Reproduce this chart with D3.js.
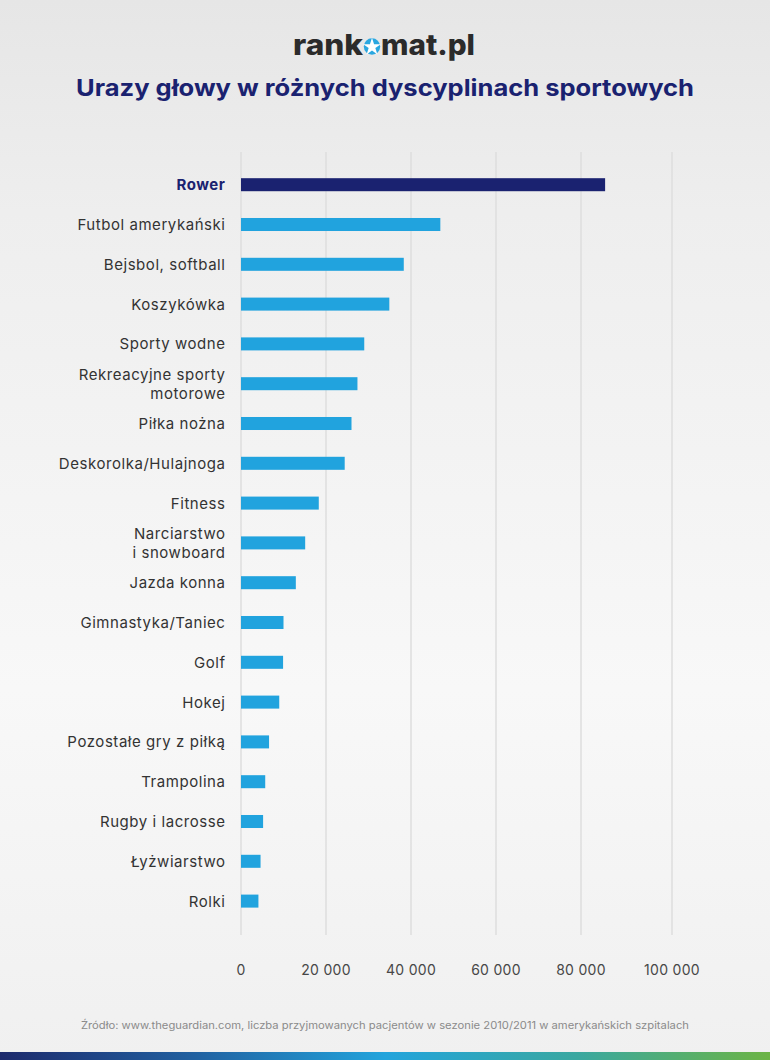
<!DOCTYPE html>
<html>
<head>
<meta charset="utf-8">
<script src="https://cdn.jsdelivr.net/npm/d3@7"></script>
<style>
  html, body { margin: 0; padding: 0; background: #f0f0f0; }
  svg { display: block; }
</style>
</head>
<body>
<svg id="chart" width="770" height="1060"></svg>
<script>
// ---- data ----
const categories = [
  "Rower", "Futbol amerykański", "Bejsbol, softball", "Koszykówka", "Sporty wodne",
  "Rekreacyjne sporty\nmotorowe", "Piłka nożna", "Deskorolka/Hulajnoga", "Fitness",
  "Narciarstwo\ni snowboard", "Jazda konna", "Gimnastyka/Taniec", "Golf", "Hokej",
  "Pozostałe gry z piłką", "Trampolina", "Rugby i lacrosse", "Łyżwiarstwo", "Rolki"
];
const values = [85300, 46900, 38300, 34900, 29000, 27400, 26000, 24400, 18300,
  15100, 12900, 10000, 9900, 9000, 6600, 5700, 5200, 4600, 4100];
const tickValues = [0, 20000, 40000, 60000, 80000, 100000];
const tickLabels = ["0", "20 000", "40 000", "60 000", "80 000", "100 000"];
const highlighted = ["Rower"];
const title = "Urazy głowy w różnych dyscyplinach sportowych";
const source = "Źródło: www.theguardian.com, liczba przyjmowanych pacjentów w sezonie 2010/2011 w amerykańskich szpitalach";

const W = 770, H = 1060;
const svg = d3.select("#chart");
const defs = svg.append("defs");

// background
const bg = defs.append("linearGradient").attr("id", "bg").attr("x1", 0).attr("y1", 0).attr("x2", 0).attr("y2", 1);
bg.append("stop").attr("offset", "0%").attr("stop-color", "#e6e6e6");
bg.append("stop").attr("offset", "20%").attr("stop-color", "#eeeeee");
bg.append("stop").attr("offset", "65%").attr("stop-color", "#f8f8f8");
bg.append("stop").attr("offset", "100%").attr("stop-color", "#f0f0f0");
svg.append("rect").attr("width", W).attr("height", H).attr("fill", "url(#bg)");

// bottom stripe
const st = defs.append("linearGradient").attr("id", "stripe").attr("x1", 0).attr("y1", 0).attr("x2", 1).attr("y2", 0);
st.append("stop").attr("offset", "0%").attr("stop-color", "#1d2a6c");
st.append("stop").attr("offset", "25%").attr("stop-color", "#2160a0");
st.append("stop").attr("offset", "50%").attr("stop-color", "#22a4dc");
st.append("stop").attr("offset", "75%").attr("stop-color", "#3aa8a0");
st.append("stop").attr("offset", "100%").attr("stop-color", "#6cb445");
svg.append("rect").attr("x", 0).attr("y", 1052).attr("width", W).attr("height", 8).attr("fill", "url(#stripe)");

// logo
const logo = svg.append("g");
logo.append("text").attr("x", 363).attr("y", 55).attr("text-anchor", "end")
  .attr("font-family", "Inter, 'DejaVu Sans', sans-serif").attr("font-weight", 800)
  .attr("font-size", 29).attr("fill", "#2b2b2b")
  .attr("textLength", 70).attr("lengthAdjust", "spacingAndGlyphs").text("rank");
logo.append("circle").attr("cx", 372).attr("cy", 46.5).attr("r", 8.2).attr("fill", "#2aa7e0");
const star = d3.symbol().type(d3.symbolStar).size(95);
logo.append("path").attr("d", star()).attr("transform", "translate(372,47)").attr("fill", "#ffffff");
logo.append("text").attr("x", 381).attr("y", 55).attr("text-anchor", "start")
  .attr("font-family", "Inter, 'DejaVu Sans', sans-serif").attr("font-weight", 800)
  .attr("font-size", 29).attr("fill", "#2b2b2b")
  .attr("textLength", 94).attr("lengthAdjust", "spacingAndGlyphs").text("mat.pl");

// title
svg.append("text").attr("x", 385).attr("y", 96).attr("text-anchor", "middle")
  .attr("font-family", "Inter, 'Open Sans', sans-serif").attr("font-weight", 700)
  .attr("font-size", 23).attr("fill", "#1a2270")
  .attr("textLength", 618).attr("lengthAdjust", "spacingAndGlyphs").text(title);

// scales
const x = d3.scaleLinear().domain([0, 80000, 100000]).range([241, 581, 672]);
const y = d3.scaleBand().domain(categories).range([164.8, 921]).paddingInner(0.673).paddingOuter(0.3365);

// grid
svg.append("g").selectAll("line").data(tickValues).join("line")
  .attr("x1", d => x(d)).attr("x2", d => x(d))
  .attr("y1", 152).attr("y2", 935)
  .attr("stroke", "#dedede").attr("stroke-width", 1.5);

// tick labels
svg.append("g").selectAll("text").data(tickValues).join("text")
  .attr("x", d => x(d)).attr("y", 975).attr("text-anchor", "middle")
  .attr("font-family", "Inter, 'Open Sans', sans-serif").attr("font-size", 14)
  .attr("letter-spacing", 0.3)
  .attr("fill", "#474747").text((d, i) => tickLabels[i]);

// bars
svg.append("g").selectAll("rect").data(categories).join("rect")
  .attr("x", x(0)).attr("y", d => y(d))
  .attr("width", (d, i) => x(values[i]) - x(0))
  .attr("height", y.bandwidth())
  .attr("fill", d => highlighted.includes(d) ? "#1a2270" : "#21a3de");

// category labels
const lab = svg.append("g").selectAll("text").data(categories).join("text")
  .attr("text-anchor", "end")
  .attr("font-family", "Inter, 'Open Sans', sans-serif")
  .attr("font-size", 15)
  .attr("letter-spacing", 0.55)
  .attr("font-weight", d => highlighted.includes(d) ? 700 : 400)
  .attr("fill", d => highlighted.includes(d) ? "#1a2270" : "#333333");
lab.each(function(d) {
  const lines = d.split("\n");
  const cy = y(d) + y.bandwidth() / 2;
  const lh = 19;
  const t = d3.select(this);
  lines.forEach((ln, k) => {
    t.append("tspan").attr("x", 225.5)
      .attr("y", cy + (k - (lines.length - 1) / 2) * lh)
      .attr("dy", "0.36em").text(ln);
  });
});

// source
svg.append("text").attr("x", 385).attr("y", 1029).attr("text-anchor", "middle")
  .attr("font-family", "Inter, 'Open Sans', sans-serif").attr("font-size", 10.5)
  .attr("fill", "#8a8a8a")
  .attr("textLength", 608).attr("lengthAdjust", "spacingAndGlyphs").text(source);
</script>
</body>
</html>
